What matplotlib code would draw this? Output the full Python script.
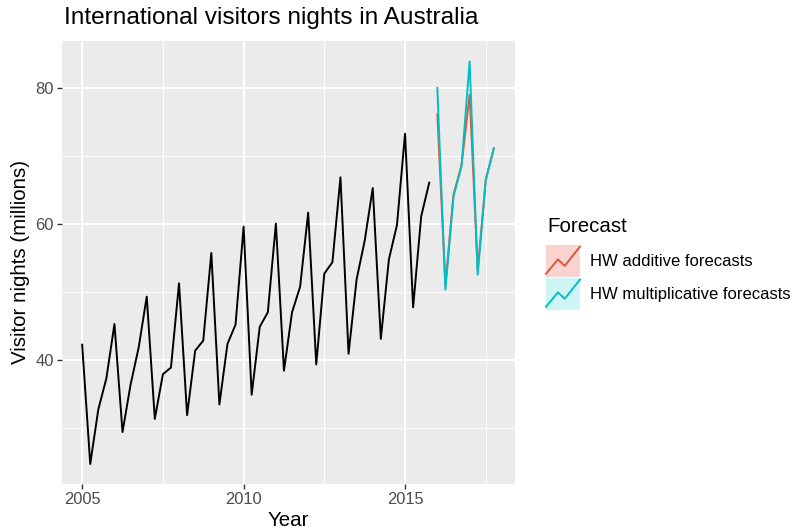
import matplotlib
matplotlib.use("Agg")
import matplotlib.pyplot as plt
import numpy as np
from matplotlib.patches import Rectangle
from matplotlib.lines import Line2D

plt.rcParams['font.family'] = ['Liberation Sans', 'DejaVu Sans']

# Data
years_start = 2005
visitors = [42.20566, 24.64917, 32.66734, 37.25735,
            45.24246, 29.35048, 36.34421, 41.78208,
            49.27660, 31.27540, 37.85063, 38.83704,
            51.23690, 31.83855, 41.32342, 42.79900,
            55.70836, 33.40714, 42.31664, 45.15712,
            59.57608, 34.83733, 44.84168, 46.97125,
            60.01903, 38.37118, 46.97586, 50.73380,
            61.64687, 39.29957, 52.67121, 54.33232,
            66.83436, 40.87119, 51.82854, 57.49191,
            65.25147, 43.06121, 54.76076, 59.83447,
            73.25703, 47.69662, 61.09777, 66.05576]
fc_start = 2016
hw_additive = [76.1, 51.0, 64.3, 68.6, 79.0, 53.2, 66.5, 71.1]
hw_multiplicative = [80.0, 50.3, 64.0, 68.5, 83.9, 52.5, 66.4, 71.1]
series_labels = ["HW additive forecasts", "HW multiplicative forecasts"]
series_colors = ["#E2553A", "#00BFC4"]
key_fills = ["#F8D3D0", "#CDF5F6"]

t = years_start + np.arange(len(visitors)) / 4
tf = fc_start + np.arange(len(hw_additive)) / 4

W, H = 797, 529
fig = plt.figure(figsize=(W / 100, H / 100), dpi=100)
ax = fig.add_axes([61.5 / W, (H - 484) / H, (514.5 - 61.5) / W, (484 - 41) / H])
ax.set_facecolor("#EBEBEB")

ax.plot(t, visitors, color="black", lw=1.4, zorder=3)
ax.plot(tf, hw_additive, color=series_colors[0], lw=1.4, zorder=3)
ax.plot(tf, hw_multiplicative, color=series_colors[1], lw=1.4, zorder=4)

ax.set_xlim(2004.36, 2018.39)
ax.set_ylim(21.7, 86.9)
ax.set_xticks([2005, 2010, 2015])
ax.set_yticks([40, 60, 80])
ax.set_xticks([2007.5, 2012.5, 2017.5], minor=True)
ax.set_yticks([30, 50, 70], minor=True)
ax.grid(which="major", color="white", lw=1.4)
ax.grid(which="minor", color="white", lw=0.7)
ax.set_axisbelow(True)
for s in ax.spines.values():
    s.set_visible(False)
ax.tick_params(which="major", length=3.5, width=1, color="#333333",
               labelsize=11.9, labelcolor="#4D4D4D", pad=2)
ax.tick_params(which="minor", length=0)

ax.set_xlabel("Year", fontsize=14.8, labelpad=3)
ax.set_ylabel("Visitor nights (millions)", fontsize=14.8, labelpad=4)
fig.text(64 / W, 1 - 18 / H, "International visitors nights in Australia",
         fontsize=17.6, va="center", ha="left")

# Legend (manual)
fig.text(547 / W, 1 - 227 / H, "Forecast", fontsize=14.8, va="center", ha="left")
key_x0, key_w, key_h = 546, 34, 32
key_tops = [245, 278]
zz_x = np.array([0.0, 0.35, 0.55, 1.0])
zz_y = np.array([0.1, 0.55, 0.35, 0.95])
for i in range(2):
    top = key_tops[i]
    r = Rectangle((key_x0 / W, 1 - (top + key_h) / H), key_w / W, key_h / H,
                  transform=fig.transFigure, facecolor=key_fills[i],
                  edgecolor="none")
    fig.add_artist(r)
    xs = (key_x0 + zz_x * key_w) / W
    ys = 1 - (top + key_h - zz_y * key_h) / H
    fig.add_artist(Line2D(xs, ys, transform=fig.transFigure,
                          color=series_colors[i], lw=1.4))
    fig.text(590 / W, 1 - (top + key_h / 2) / H, series_labels[i],
             fontsize=12.0, va="center", ha="left")

fig.savefig("out.png", dpi=100)
